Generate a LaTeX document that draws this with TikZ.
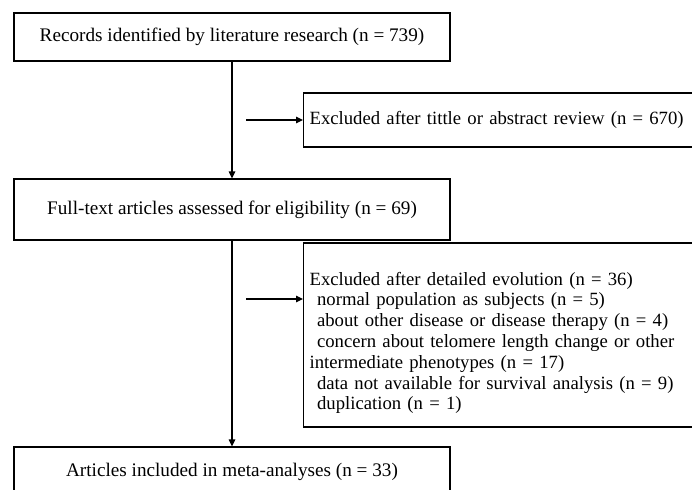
\documentclass[tikz,border=0pt]{standalone}
\usepackage{fontspec}
\setmainfont{Liberation Serif}
\usetikzlibrary{arrows.meta, positioning}
\tikzset{
  flowbox/.style={draw, line width=1.2pt, inner sep=0pt, font=\fontsize{19.2}{20.8}\selectfont},
  mainbox/.style={flowbox, minimum width=436pt, align=center},
  sidebox/.style={flowbox, anchor=west, inner xsep=6pt, text width=420pt, align=left,
    font=\fontsize{18.7}{20.8}\selectfont},
  flowarrow/.style={-{Triangle[length=7pt,width=6.5pt]}, line width=1.2pt},
}
\newcommand{\ind}{\hspace{0.4em}}

\begin{document}
\begin{tikzpicture}[x=1pt, y=-1pt]
  \useasboundingbox (0,0) rectangle (692,489);
  \clip (0,0) rectangle (692,489);

  % Main column
  \node[mainbox, minimum height=48pt] (records) at (232,37) {Records identified by literature research (n = 739)};
  \node[mainbox, minimum height=61pt] (fulltext) at (232,209.5) {Full-text articles assessed for eligibility (n = 69)};
  \node[mainbox, minimum height=50pt] (included) at (232,472) {Articles included in meta-analyses (n = 33)};

  % Exclusions
  \node[sidebox, minimum height=54pt] (screened) at (303,120) {Excluded after tittle or abstract review (n = 670)};
  \node[sidebox, minimum height=184pt] (detailed) at (303,335) {\rule{0pt}{29pt}Excluded after detailed evolution (n = 36)\\
    \ind normal population as subjects (n = 5)\\
    \ind about other disease or disease therapy (n = 4)\\
    \ind concern about telomere length change or other\\
    intermediate phenotypes (n = 17)\\
    \ind data not available for survival analysis (n = 9)\\
    \ind duplication (n = 1)};

  % Arrows
  \coordinate (gap1) at (246,120);
  \coordinate (gap2) at (246,299);
  \draw[flowarrow] (records.south) -- (fulltext.north);
  \draw[flowarrow] (fulltext.south) -- (included.north);
  \draw[flowarrow] (gap1) -- (gap1 -| screened.west);
  \draw[flowarrow] (gap2) -- (gap2 -| detailed.west);
\end{tikzpicture}
\end{document}
